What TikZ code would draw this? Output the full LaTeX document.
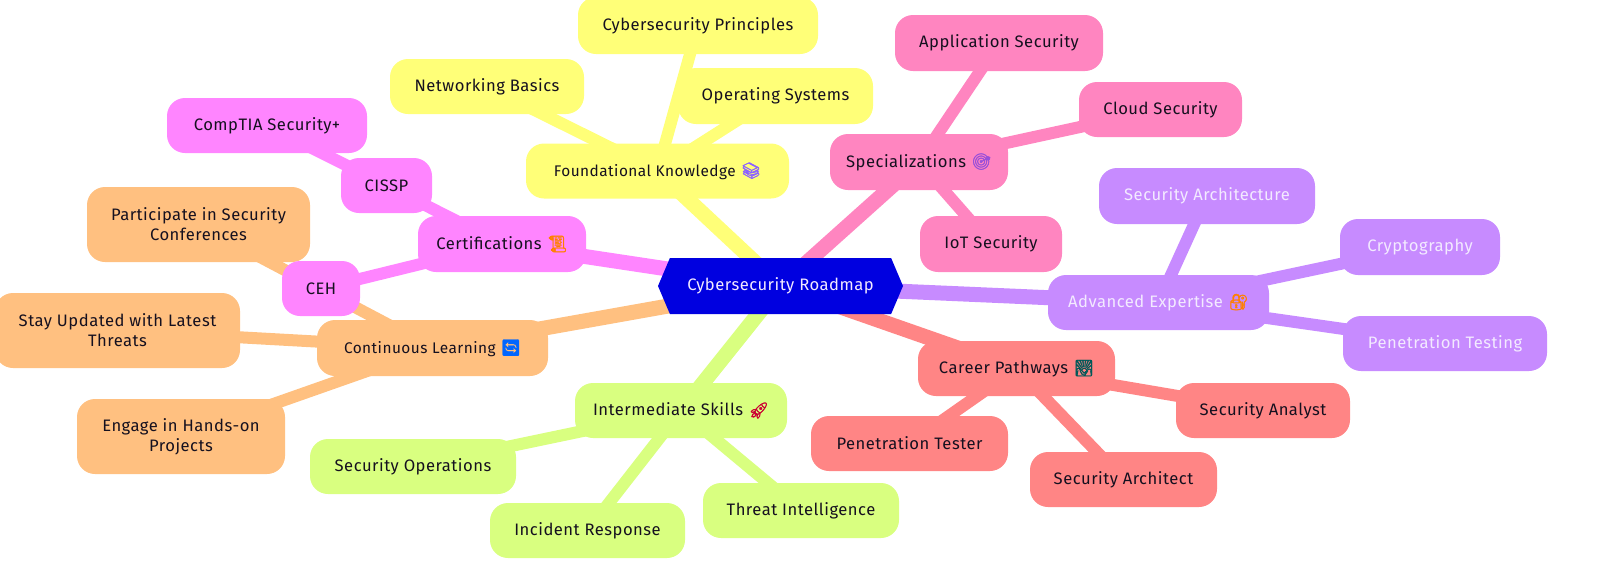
\documentclass[tikz,border=0pt]{standalone}
\usepackage{fontspec}
\setmainfont[LetterSpace=3]{Fira Sans}
\newfontfamily\emojifont[FakeBold=2]{Noto Emoji}
\usetikzlibrary{shapes.symbols,backgrounds}
\definecolor{cyel}{HTML}{FFFF78}
\definecolor{cpnk}{HTML}{FF85C0}
\definecolor{cpur}{HTML}{C78BFF}
\definecolor{csal}{HTML}{FF8585}
\definecolor{cgrn}{HTML}{D9FF80}
\definecolor{corg}{HTML}{FFC080}
\definecolor{cmag}{HTML}{FF85FF}
\definecolor{croot}{HTML}{0000E0}
\definecolor{ctxt}{HTML}{15101F}
\definecolor{clight}{HTML}{F3EAFF}
\newcommand{\emo}[2]{\,\,{\emojifont\fontsize{16}{16}\selectfont\textcolor{#1}{#2}}}
\tikzset{
  box/.style={rounded corners=18pt,inner sep=0pt,minimum height=55pt,align=center,text=ctxt,font=\fontsize{16.6}{20}\selectfont},
  tight/.style={font=\fontsize{15.4}{20}\selectfont},
  yel/.style={box,fill=cyel}, pnk/.style={box,fill=cpnk}, pur/.style={box,fill=cpur,text=clight},
  sal/.style={box,fill=csal}, grn/.style={box,fill=cgrn}, org/.style={box,fill=corg}, mag/.style={box,fill=cmag},
  rootbox/.style={shape=signal,signal to=west and east,signal pointer angle=134,fill=croot,text=clight,inner sep=0pt,minimum width=245pt,minimum height=56pt,font=\fontsize{16.6}{20}\selectfont},
  main/.style={line width=15pt},
  sub/.style={line width=12pt},
}
\begin{document}
\begin{tikzpicture}[x=1pt,y=-1pt]
\useasboundingbox (0,0) rectangle (1600,579);
\node[rootbox] (root) at (780.5,286) {Cybersecurity Roadmap};
% yellow
\node[yel,tight,minimum width=263pt] (found) at (657.5,171) {Foundational Knowledge\emo{cpur!70!blue}{📚}};
\node[yel,minimum width=240pt,minimum height=57pt] (princ) at (698,25.5) {Cybersecurity Principles};
\node[yel,minimum width=194pt] (net) at (487,86.5) {Networking Basics};
\node[yel,minimum width=195pt,minimum height=56pt] (os) at (775.5,96) {Operating Systems};
% pink
\node[pnk,minimum width=178pt,minimum height=56pt] (spec) at (919,162) {Specializations\emo{cpnk!60!blue}{🎯}};
\node[pnk,minimum width=208pt,minimum height=56pt] (app) at (999,43) {Application Security};
\node[pnk,minimum width=163pt] (cloud) at (1160.5,109.5) {Cloud Security};
\node[pnk,minimum width=142pt,minimum height=56pt] (iot) at (991,244) {IoT Security};
% purple
\node[pur,minimum width=221pt] (adv) at (1158.5,302.5) {Advanced Expertise\emo{orange}{🔐}};
\node[pur,minimum width=216pt,minimum height=56pt] (arch) at (1207,196) {Security Architecture};
\node[pur,minimum width=160pt,minimum height=56pt] (crypt) at (1420,247) {Cryptography};
\node[pur,minimum width=204pt] (pent) at (1445,343.5) {Penetration Testing};
% salmon
\node[sal,minimum width=197pt] (career) at (1016.5,368.5) {Career Pathways\emo{teal!70!black}{🌄}};
\node[sal,minimum width=174pt] (analyst) at (1263,410.5) {Security Analyst};
\node[sal,minimum width=187pt] (archt) at (1123.5,479.5) {Security Architect};
\node[sal,minimum width=197pt] (ptest) at (909.5,443.5) {Penetration Tester};
% green
\node[grn,minimum width=212pt] (inter) at (681,410.5) {Intermediate Skills\emo{red!60!violet}{🚀}};
\node[grn,minimum width=206pt] (secops) at (413,466.5) {Security Operations};
\node[grn,minimum width=195pt] (incid) at (587.5,530.5) {Incident Response};
\node[grn,minimum width=196pt] (threat) at (801,510.5) {Threat Intelligence};
% orange
\node[org,tight,minimum width=231pt,minimum height=56pt] (cont) at (432.5,348) {Continuous Learning\emo{blue!60!cyan}{🔄}};
\node[org,minimum width=245pt,minimum height=75pt] (stay) at (117.5,330.5) {Stay Updated with Latest\\Threats};
\node[org,minimum width=223pt,minimum height=75pt] (part) at (198.5,224.5) {Participate in Security\\Conferences};
\node[org,minimum width=208pt,minimum height=75pt] (eng) at (181,436.5) {Engage in Hands-on\\Projects};
% magenta
\node[mag,minimum width=168pt,minimum height=56pt] (cert) at (502,244) {Certifications\emo{orange}{📜}};
\node[mag,minimum width=78pt] (ceh) at (321,288.5) {CEH};
\node[mag,minimum width=91pt] (cissp) at (386.5,185.5) {CISSP};
\node[mag,minimum width=200pt] (comp) at (267,125.5) {CompTIA Security+};
\begin{pgfonlayer}{background}
\draw[main,cyel] (root.center) -- (found.center);
\draw[sub,cyel] (found.center) -- (princ.center);
\draw[sub,cyel] (found.center) -- (net.center);
\draw[sub,cyel] (found.center) -- (os.center);
\draw[main,cpnk] (root.center) -- (spec.center);
\draw[sub,cpnk] (spec.center) -- (app.center);
\draw[sub,cpnk] (spec.center) -- (cloud.center);
\draw[sub,cpnk] (spec.center) -- (iot.center);
\draw[main,cpur] (root.center) -- (adv.center);
\draw[sub,cpur] (adv.center) -- (arch.center);
\draw[sub,cpur] (adv.center) -- (crypt.center);
\draw[sub,cpur] (adv.center) -- (pent.center);
\draw[main,csal] (root.center) -- (career.center);
\draw[sub,csal] (career.center) -- (analyst.center);
\draw[sub,csal] (career.center) -- (archt.center);
\draw[sub,csal] (career.center) -- (ptest.center);
\draw[main,cgrn] (root.center) -- (inter.center);
\draw[sub,cgrn] (inter.center) -- (secops.center);
\draw[sub,cgrn] (inter.center) -- (incid.center);
\draw[sub,cgrn] (inter.center) -- (threat.center);
\draw[main,corg] (root.center) -- (cont.center);
\draw[sub,corg] (cont.center) -- (stay.center);
\draw[sub,corg] (cont.center) -- (part.center);
\draw[sub,corg] (cont.center) -- (eng.center);
\draw[main,cmag] (root.center) -- (cert.center);
\draw[sub,cmag] (cert.center) -- (ceh.center);
\draw[sub,cmag] (cert.center) -- (cissp.center);
\draw[sub,cmag] (cissp.center) -- (comp.center);
\end{pgfonlayer}
\end{tikzpicture}
\end{document}
